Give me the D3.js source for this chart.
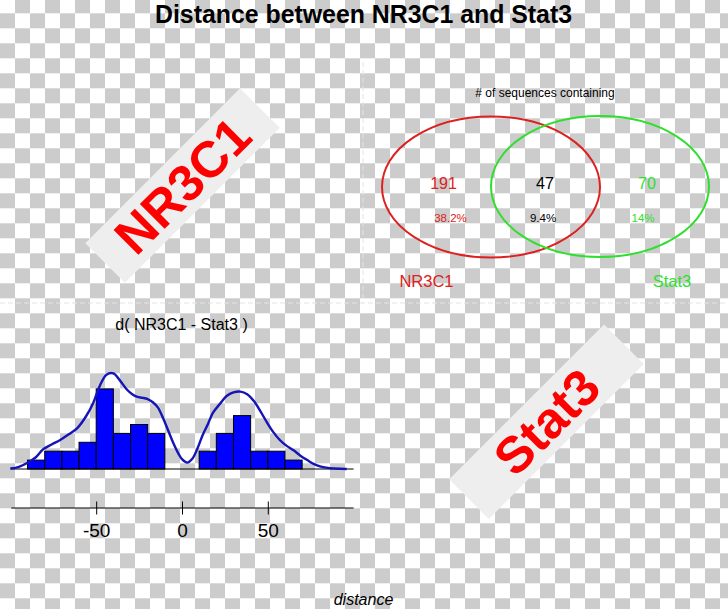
<!DOCTYPE html>
<html><head><meta charset="utf-8">
<script src="https://cdn.jsdelivr.net/npm/d3@7"></script>
<style>body{margin:0;background:#fff}svg{display:block}</style>
</head><body>
<svg id="c" width="728" height="609"></svg>
<script>
// ---------- data ----------
const titleText = "Distance between NR3C1 and Stat3";
const factorNames = ["NR3C1", "Stat3"];
const vennOnly = [191, 70];          // sequences containing only NR3C1 / only Stat3
const vennBoth = 47;                 // sequences containing both
const totalSequences = 500;
const vennTitle = "# of sequences containing";

const histTitle = "d( NR3C1 - Stat3 )";
const xLabel = "distance";
const binEdges  = [-90,-80,-70,-60,-50,-40,-30,-20,-10,0,10,20,30,40,50,60,70];
const binCounts = [1,2,2,3,9,4,5,4,0,0,2,4,6,2,2,1];
const xTicks = [-50, 0, 50];
const xTickLabels = ["-50", "0", "50"];
// density curve, expressed on the count scale
const densityX = [-100,-95,-90,-85,-81,-76,-71,-66,-61,-56,-52,-48,-44,-40,-36,-32,-29,-26,-23,-20,-17,-14,-11,-8,-5,-2,0,3,6,9,12,15,18,22,26,30,34,38,42,46,49,53,57,61,65,69,73,77,81,86,92,96];
const densityY = [0.05,0.25,0.7,1.35,2.2,2.75,3.26,3.9,4.6,5.9,7.3,9.3,10.6,10.75,9.9,8.9,8.4,8.1,8.0,7.85,7.5,6.9,5.7,4.3,2.9,1.7,1.1,0.72,1.15,2.3,3.8,5.0,6.3,7.3,8.2,8.6,8.7,8.4,7.6,6.4,5.4,4.2,3.26,2.6,2.1,1.5,1.0,0.55,0.26,0.1,0.02,0];

// ---------- drawing ----------
const svg = d3.select("#c");
const W = 728, H = 609;
const font = "'Liberation Sans', Arial, Helvetica, sans-serif";

// transparency checkerboard
const defs = svg.append("defs");
const pat = defs.append("pattern").attr("id","chk").attr("patternUnits","userSpaceOnUse")
  .attr("width",30).attr("height",30).attr("y",-1.7);
pat.append("rect").attr("width",30).attr("height",30).attr("fill","#ffffff");
pat.append("rect").attr("x",15).attr("y",0).attr("width",15).attr("height",15).attr("fill","#cccccc");
pat.append("rect").attr("x",0).attr("y",15).attr("width",15).attr("height",15).attr("fill","#cccccc");
svg.append("rect").attr("width",W).attr("height",H).attr("fill","url(#chk)");

// faint panel dividers
svg.append("line").attr("x1",363).attr("x2",363).attr("y1",62).attr("y2",303)
  .attr("stroke","#e4e4e4").attr("stroke-dasharray","5,3");
svg.append("line").attr("x1",0).attr("x2",W).attr("y1",303).attr("y2",303)
  .attr("stroke","#e4e4e4").attr("stroke-dasharray","5,3");

// title
svg.append("text").attr("x",363.5).attr("y",23).attr("text-anchor","middle")
  .attr("font-family",font).attr("font-weight","bold").attr("font-size",26)
  .attr("textLength",417).attr("lengthAdjust","spacingAndGlyphs")
  .text(titleText);

// rotated factor labels
const boxes = [{cx:182.5, cy:185.5}, {cx:546.5, cy:421.7}];
factorNames.forEach((name,i)=>{
  const g = svg.append("g").attr("transform",`translate(${boxes[i].cx},${boxes[i].cy}) rotate(-45)`);
  g.append("rect").attr("x",-109.5).attr("y",-28).attr("width",219).attr("height",56).attr("fill","#eeeeee");
  g.append("text").attr("text-anchor","middle").attr("y",18)
    .attr("font-family",font).attr("font-weight","bold").attr("font-size",51)
    .attr("fill","#ff0000").text(name);
});

// ---------- Venn ----------
const pct = d3.format(".3~");
const vennColors = ["#dd2020","#2ee02e"];
svg.append("text").attr("x",545).attr("y",97).attr("text-anchor","middle")
  .attr("font-family",font).attr("font-size",12).text(vennTitle);
const ell = [{cx:491, cy:187}, {cx:600, cy:186.5}];
ell.forEach((e,i)=>{
  svg.append("ellipse").attr("cx",e.cx).attr("cy",e.cy).attr("rx",109).attr("ry",70.5)
    .attr("fill","none").attr("stroke",vennColors[i]).attr("stroke-width",2);
});
const vennCells = [
  {n:vennOnly[0], x:443.5, px:450.5, c:vennColors[0]},
  {n:vennBoth,    x:545,   px:543,   c:"#000000"},
  {n:vennOnly[1], x:647,   px:643,   c:vennColors[1]}
];
vennCells.forEach(d=>{
  svg.append("text").attr("x",d.x).attr("y",188.5).attr("text-anchor","middle")
    .attr("font-family",font).attr("font-size",16).attr("fill",d.c).text(d.n);
  svg.append("text").attr("x",d.px).attr("y",221.5).attr("text-anchor","middle")
    .attr("font-family",font).attr("font-size",11.5).attr("fill",d.c)
    .text(pct(d.n/totalSequences*100)+"%");
});
svg.append("text").attr("x",426.5).attr("y",286.5).attr("text-anchor","middle")
  .attr("font-family",font).attr("font-size",16.5).attr("fill",vennColors[0]).text(factorNames[0]);
svg.append("text").attr("x",672).attr("y",286.5).attr("text-anchor","middle")
  .attr("font-family",font).attr("font-size",16.5).attr("fill",vennColors[1]).text(factorNames[1]);

// ---------- histogram ----------
const x = d3.scaleLinear().domain([-100,100]).range([10.4,353.6]);
const y = d3.scaleLinear().domain([0,9]).range([469,388.9]);

svg.append("text").attr("x",181.5).attr("y",329.5).attr("text-anchor","middle")
  .attr("font-family",font).attr("font-size",16).text(histTitle);

const bins = binCounts.map((c,i)=>({x0:binEdges[i], x1:binEdges[i+1], c})).filter(d=>d.c>0);
svg.append("g").selectAll("rect").data(bins).join("rect")
  .attr("x",d=>x(d.x0)).attr("width",d=>x(d.x1)-x(d.x0))
  .attr("y",d=>y(d.c)).attr("height",d=>y(0)-y(d.c))
  .attr("fill","#0000ff").attr("stroke","#000").attr("stroke-width",1);

svg.append("line").attr("x1",x(-100)).attr("x2",x(100)).attr("y1",y(0)).attr("y2",y(0))
  .attr("stroke","#000").attr("stroke-width",1);

const line = d3.line().x((d,i)=>x(densityX[i])).y(d=>y(d)).curve(d3.curveCatmullRom);
svg.append("path").attr("d",line(densityY)).attr("fill","none")
  .attr("stroke","#1414b8").attr("stroke-width",2.4);

const axis = d3.axisBottom(x).tickValues(xTicks)
  .tickFormat((d,i)=>xTickLabels[i]).tickSize(0).tickPadding(0);
const ag = svg.append("g").attr("transform","translate(0,508)").call(axis);
ag.select(".domain").attr("d",`M${x(-99.5)},0H${x(100)}`).attr("stroke","#000");
ag.selectAll(".tick line").attr("y1",-6.5).attr("y2",6.5).attr("stroke","#000");
ag.selectAll(".tick text").attr("y",28.5).attr("dy",null)
  .attr("font-family",font).attr("font-size",19).attr("fill","#000");

svg.append("text").attr("x",363.5).attr("y",604.5).attr("text-anchor","middle")
  .attr("font-family",font).attr("font-style","italic").attr("font-size",16).text(xLabel);
</script>
</body></html>
